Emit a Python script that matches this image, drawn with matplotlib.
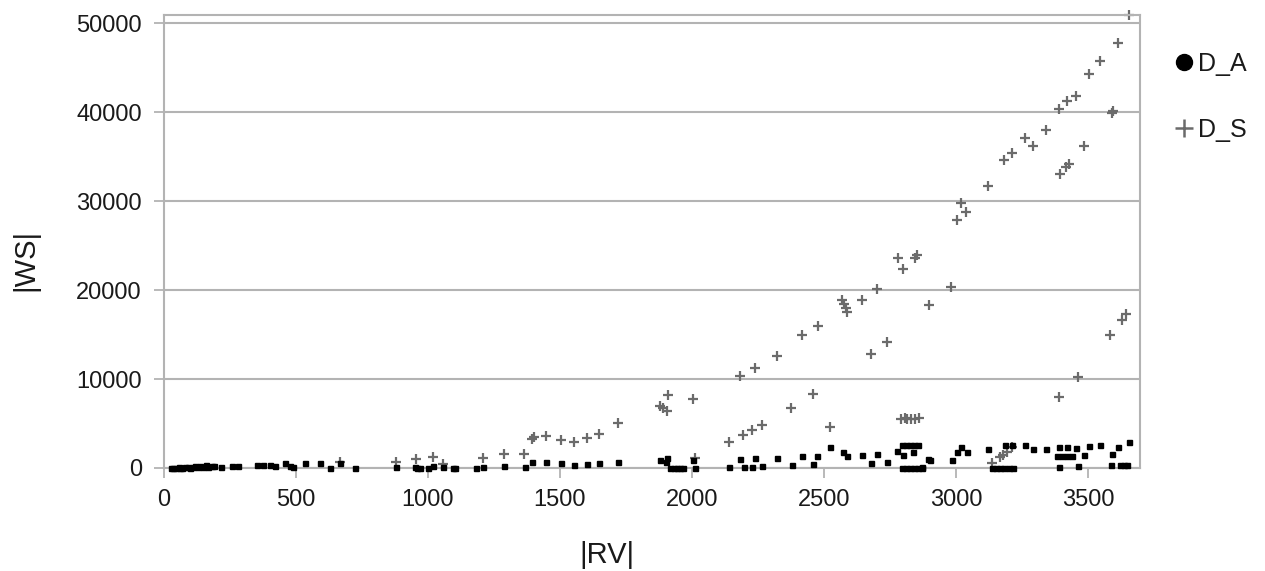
import numpy as np
import matplotlib.pyplot as plt
from matplotlib.lines import Line2D

plt.rcParams['font.family'] = ['Liberation Sans', 'DejaVu Sans']

# D_A series (black points)
da_x = [25, 35, 45, 55, 62, 70, 80, 90, 100, 108, 118, 128, 138, 148, 158, 168, 180, 190,
        216, 258, 280, 352, 375, 402, 420, 458, 477, 490, 534, 591, 629, 667, 723,
        879, 951, 958, 970, 1000, 1019, 1057, 1095, 1102, 1182, 1208, 1288, 1367,
        1394, 1447, 1504, 1553, 1602, 1648, 1720, 1879, 1905, 1900,
        1917, 1930, 1942, 1955, 1966, 2004, 2011,
        2140, 2182, 2197, 2227, 2239, 2265, 2322, 2379, 2417, 2458, 2473, 2523,
        2572, 2587, 2644, 2678, 2701, 2739, 2777, 2799,
        2795, 2810, 2825, 2840, 2856, 2837, 2795, 2810, 2825, 2840, 2855, 2871,
        2894, 2871, 2902, 2985, 3004, 3019, 3042, 3121,
        3136, 3150, 3165, 3180, 3200, 3216, 3186, 3212, 3261, 3292, 3341,
        3390, 3420, 3383, 3400, 3420, 3439, 3390, 3455, 3485, 3462, 3504, 3545,
        3591, 3587, 3614, 3621, 3635, 3648, 3655]
da_y = [0, 50, 0, 100, 20, 0, 150, 60, 0, 120, 200, 80, 250, 150, 300, 100, 200, 250,
        100, 200, 200, 340, 300, 340, 200, 560, 230, 100, 560, 560, 0, 560, 0,
        100, 100, 0, 50, 0, 200, 100, 0, 0, 0, 100, 200, 100,
        670, 670, 560, 340, 450, 560, 670, 900, 1120, 700,
        0, 0, 0, 0, 0, 900, 0,
        100, 1010, 100, 100, 1120, 200, 1120, 340, 1350, 450, 1350, 2360,
        1800, 1350, 1460, 560, 1570, 670, 1910, 1460,
        2580, 2580, 2580, 2580, 2580, 1800, 0, 0, 0, 0, 0, 0,
        1010, 100, 900, 900, 1800, 2360, 1800, 2140,
        0, 0, 0, 0, 0, 0, 2580, 2580, 2580, 2140, 2140,
        2360, 2360, 1350, 1350, 1350, 1350, 100, 2250, 1460, 200, 2470, 2580,
        1570, 340, 2360, 340, 340, 340, 2920]

# D_S series (grey crosses)
ds_x = [667, 879, 955, 1019, 1057, 1208, 1288, 1364, 1394, 1400, 1447, 1504, 1553,
        1602, 1648, 1720, 1879, 1890, 1909, 1905, 2004, 2010,
        2140, 2193, 2227, 2265, 2375, 2458, 2523,
        2790, 2805, 2815, 2830, 2845, 2860,
        2182, 2239, 2322, 2417, 2477, 2568, 2575, 2583, 2587, 2644, 2701,
        2780, 2799, 2845, 2852, 2678, 2739, 2896, 2981,
        3004, 3019, 3038, 3121, 3182, 3212, 3261, 3292, 3341, 3390, 3420, 3455,
        3504, 3545, 3614, 3655, 3595, 3590, 3485, 3428, 3417, 3394,
        3644, 3629, 3583, 3462, 3390, 3136, 3165, 3178, 3195, 3212]
ds_y = [670, 670, 1010, 1240, 450, 1120, 1570, 1570, 3260, 3500, 3600, 3150, 2920,
        3370, 3820, 5060, 6970, 6750, 8200, 6410, 7760, 1150,
        2920, 3710, 4270, 4830, 6740, 8320, 4610,
        5510, 5600, 5450, 5550, 5500, 5600,
        10340, 11240, 12590, 14950, 15960, 18880, 18400, 17980, 17530, 18880, 20120,
        23600, 22370, 23600, 23940, 12810, 14160, 18260, 20340,
        27880, 29790, 28770, 31700, 34620, 35410, 37090, 36190, 37990, 40350, 41250, 41810,
        44290, 45750, 47770, 50900, 40130, 39900, 36190, 34170, 33830, 33050,
        17310, 16640, 14950, 10230, 7980, 560, 1240, 1500, 1800, 2360]

grid_col = '#b3b3b3'
txt_col = '#1a1a1a'
grey = '#6b6b6b'

fig = plt.figure(figsize=(12.65, 5.71), dpi=100)
ax = fig.add_axes([164/1265, 103/571, 976/1265, 453/571])

ax.plot(da_x, da_y, linestyle='none', marker='s', markersize=3.6,
        color='black', clip_on=False, zorder=3)
ax.plot(ds_x, ds_y, linestyle='none', marker='+', markersize=7.8, markeredgewidth=1.6,
        color=grey, clip_on=False, zorder=2)

ax.set_xlim(0, 3697)
ax.set_ylim(0, 50900)
ax.set_xticks(np.arange(0, 3501, 500))
ax.set_yticks(np.arange(0, 50001, 10000))
ax.yaxis.grid(True, color=grid_col, linewidth=1.5)
ax.set_axisbelow(True)
for s in ax.spines.values():
    s.set_color(grid_col)
    s.set_linewidth(1.5)
ax.tick_params(colors=grid_col, labelcolor=txt_col, labelsize=17, length=7, width=1.3, pad=9)
ax.tick_params(axis='x', pad=8)

ax.set_xlabel('|RV|', fontsize=21, color=txt_col)
ax.set_ylabel('|WS|', fontsize=21, color=txt_col)
ax.xaxis.set_label_coords(0.454, -0.192)
ax.yaxis.set_label_coords(-0.142, 0.459)
ax.xaxis.label.set_va('center')
ax.yaxis.label.set_va('center')

handles = [Line2D([], [], linestyle='none', marker='o', markersize=11.5, color='black'),
           Line2D([], [], linestyle='none', marker='+', markersize=13, markeredgewidth=1.8, color=grey)]
fig.legend(handles, ['D_A', 'D_S'], loc='upper left', bbox_to_anchor=(1151/1265, 1 - 29/571),
           frameon=False, fontsize=18, handlelength=0.8, handletextpad=0.2,
           labelspacing=1.7, labelcolor=txt_col)

fig.savefig('out.png', dpi=100)
